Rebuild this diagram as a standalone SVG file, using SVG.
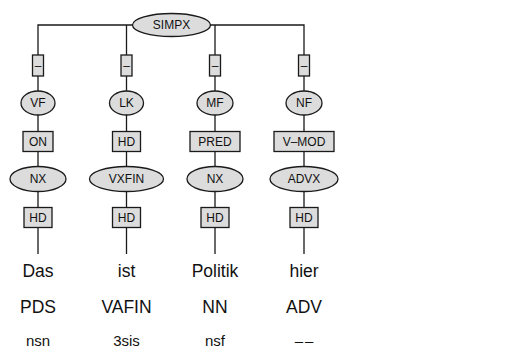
<svg xmlns="http://www.w3.org/2000/svg" width="511" height="347" viewBox="0 0 511 347">
<style>
.n{fill:#dcdcdc;stroke:#1a1a1a;stroke-width:1.3}
.e{stroke:#1a1a1a;stroke-width:1.3;fill:none}
text{font-family:"Liberation Sans",Arial,sans-serif;fill:#111;text-anchor:middle}
.l{font-size:12px}
.w{font-size:17.5px}
.m{font-size:15px}
</style>
<g id="connectors">
<path class="e" d="M38,55V25H304V55M126.5,25V55M215,25V55"/>
<path class="e" d="M38,76V91M38,115V131.5M38,151.5V166.5M38,191.5V207.5M38,227.5V254"/>
<path class="e" d="M126.5,76V91M126.5,115V131.5M126.5,151.5V166.5M126.5,191.5V207.5M126.5,227.5V254"/>
<path class="e" d="M215,76V91M215,115V131.5M215,151.5V166.5M215,191.5V207.5M215,227.5V254"/>
<path class="e" d="M304,76V91M304,115V131.5M304,151.5V166.5M304,191.5V207.5M304,227.5V254"/>
</g>
<g id="SIMPX"><ellipse class="n" cx="171.5" cy="25" rx="39" ry="11.5"/><text class="l" x="171.5" y="29.3">SIMPX</text></g>
<g id="e1"><rect class="n" x="32.5" y="55" width="11" height="21"/><text class="l" x="38" y="69.8">–</text></g>
<g id="e2"><rect class="n" x="121" y="55" width="11" height="21"/><text class="l" x="126.5" y="69.8">–</text></g>
<g id="e3"><rect class="n" x="209.5" y="55" width="11" height="21"/><text class="l" x="215" y="69.8">–</text></g>
<g id="e4"><rect class="n" x="298.5" y="55" width="11" height="21"/><text class="l" x="304" y="69.8">–</text></g>
<g id="VF"><ellipse class="n" cx="38" cy="103" rx="17" ry="12"/><text class="l" x="38" y="107.3">VF</text></g>
<g id="LK"><ellipse class="n" cx="126.5" cy="103" rx="17" ry="12"/><text class="l" x="126.5" y="107.3">LK</text></g>
<g id="MF"><ellipse class="n" cx="215" cy="103" rx="18" ry="12"/><text class="l" x="215" y="107.3">MF</text></g>
<g id="NF"><ellipse class="n" cx="304" cy="103" rx="18" ry="12"/><text class="l" x="304" y="107.3">NF</text></g>
<g id="ON"><rect class="n" x="23" y="131.5" width="30" height="20"/><text class="l" x="38" y="145.8">ON</text></g>
<g id="HD1"><rect class="n" x="112.5" y="131.5" width="28" height="20"/><text class="l" x="126.5" y="145.8">HD</text></g>
<g id="PRED"><rect class="n" x="190" y="131.5" width="50" height="20"/><text class="l" x="215" y="145.8">PRED</text></g>
<g id="VMOD"><rect class="n" x="274" y="131.5" width="60" height="20"/><text class="l" x="304" y="145.8">V–MOD</text></g>
<g id="NX1"><ellipse class="n" cx="38" cy="179" rx="28" ry="12.5"/><text class="l" x="38" y="183.3">NX</text></g>
<g id="VXFIN"><ellipse class="n" cx="126.5" cy="179" rx="37" ry="12.5"/><text class="l" x="126.5" y="183.3">VXFIN</text></g>
<g id="NX2"><ellipse class="n" cx="215" cy="179" rx="28" ry="12.5"/><text class="l" x="215" y="183.3">NX</text></g>
<g id="ADVX"><ellipse class="n" cx="304" cy="179" rx="34" ry="12.5"/><text class="l" x="304" y="183.3">ADVX</text></g>
<g id="HD2"><rect class="n" x="24" y="207.5" width="28" height="20"/><text class="l" x="38" y="221.8">HD</text></g>
<g id="HD3"><rect class="n" x="112.5" y="207.5" width="28" height="20"/><text class="l" x="126.5" y="221.8">HD</text></g>
<g id="HD4"><rect class="n" x="201" y="207.5" width="28" height="20"/><text class="l" x="215" y="221.8">HD</text></g>
<g id="HD5"><rect class="n" x="290" y="207.5" width="28" height="20"/><text class="l" x="304" y="221.8">HD</text></g>
<g id="t1"><text class="w" x="38" y="277">Das</text><text class="w" x="38" y="313">PDS</text><text class="m" x="38" y="345.5">nsn</text></g>
<g id="t2"><text class="w" x="126.5" y="277">ist</text><text class="w" x="126.5" y="313">VAFIN</text><text class="m" x="126.5" y="345.5">3sis</text></g>
<g id="t3"><text class="w" x="215" y="277">Politik</text><text class="w" x="215" y="313">NN</text><text class="m" x="215" y="345.5">nsf</text></g>
<g id="t4"><text class="w" x="304" y="277">hier</text><text class="w" x="304" y="313">ADV</text><text class="m" x="305" y="345.5" letter-spacing="2">––</text></g>
</svg>
